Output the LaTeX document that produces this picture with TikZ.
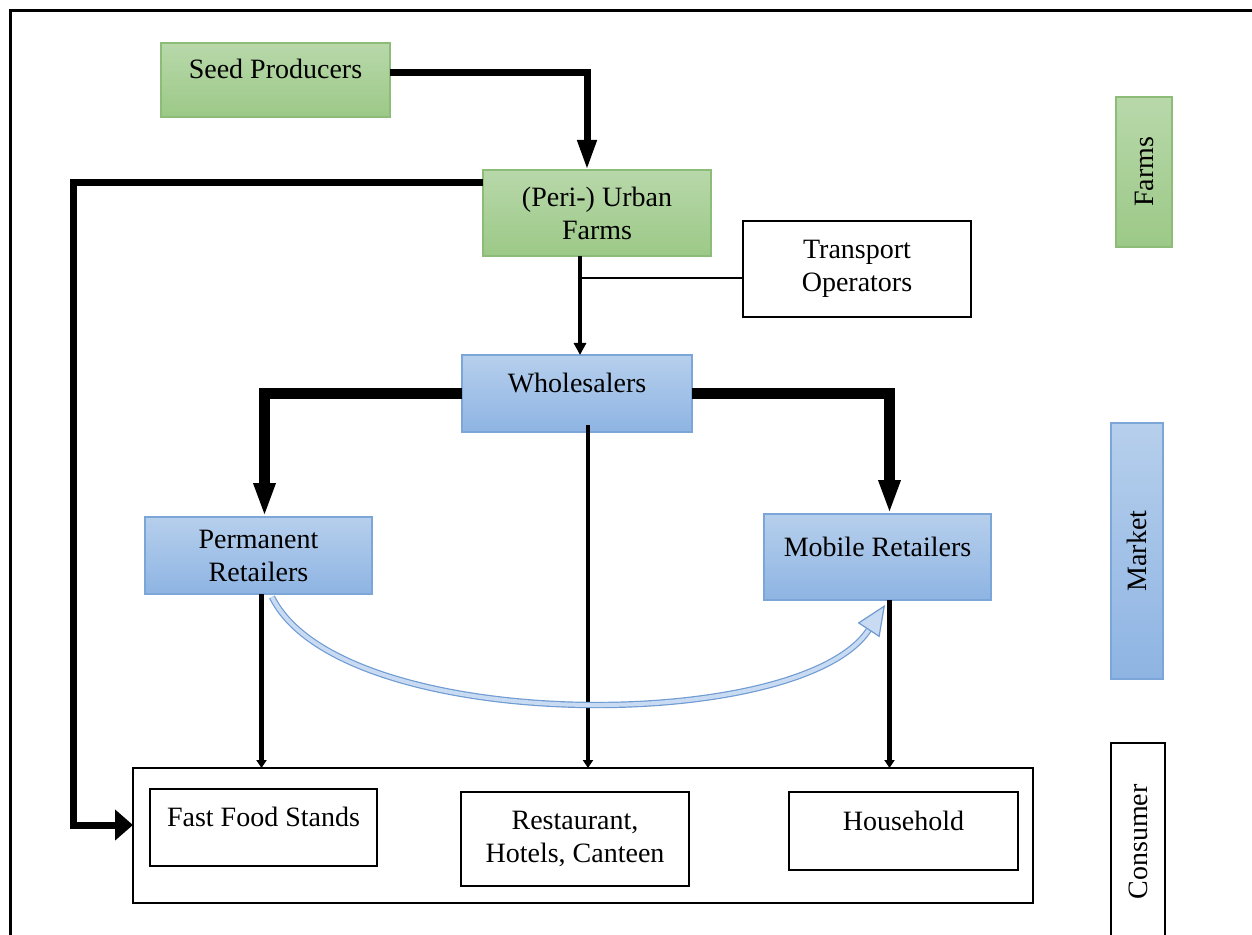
\documentclass[tikz,border=0pt]{standalone}
\usepackage{fontspec}
\setmainfont{Liberation Serif}
\usetikzlibrary{arrows.meta}
\definecolor{greentop}{HTML}{B8D8AA}
\definecolor{greenbot}{HTML}{9CC987}
\definecolor{greenedge}{HTML}{8DBB78}
\definecolor{bluetop}{HTML}{B6CFEC}
\definecolor{bluebot}{HTML}{8EB4E3}
\definecolor{blueedge}{HTML}{7CA5D8}
\definecolor{curvefill}{HTML}{C8DBF2}
\definecolor{curveedge}{HTML}{6F9BD2}
\begin{document}
\begin{tikzpicture}[x=0.5pt,y=-0.5pt]
\tikzstyle{every node}+=[inner sep=0pt,outer sep=0pt,font=\fontsize{14}{16.5}\selectfont,align=center]
\tikzstyle{farmbox}=[draw=greenedge,top color=greentop,bottom color=greenbot,line width=0.6pt]
\tikzstyle{marketbox}=[draw=blueedge,top color=bluetop,bottom color=bluebot,line width=0.6pt]
\tikzstyle{plainbox}=[draw=black,fill=white,line width=0.8pt]
\tikzstyle{oneline}=[text height=10pt,text depth=11pt]
\tikzstyle{flow}=[draw=black,line join=miter]
\useasboundingbox (0,0) rectangle (1252,935);
\draw[line width=1.5pt] (1262,11) -- (10,11) -- (10,945);
\node[farmbox,oneline,minimum width=114.5pt,minimum height=37pt] (seed) at (275.5,80) {Seed Producers};
\node[farmbox,minimum width=114pt,minimum height=43pt] (farm) at (597,213) {(Peri-) Urban\\Farms};
\node[plainbox,minimum width=114pt,minimum height=48pt] (trans) at (857,269) {Transport\\Operators};
\node[marketbox,oneline,minimum width=115pt,minimum height=38.5pt] (whole) at (577,393.5) {Wholesalers};
\node[marketbox,minimum width=113.5pt,minimum height=38.5pt] (perm) at (258.5,555.5) {Permanent\\Retailers};
\node[marketbox,oneline,minimum width=113.5pt,minimum height=43pt] (mob) at (877.5,557) {Mobile Retailers};
\node[plainbox,minimum width=450pt,minimum height=67.5pt] (cons) at (583,835.5) {};
\node[plainbox,oneline,minimum width=113.5pt,minimum height=38.5pt] (fast) at (263.5,827.5) {Fast Food Stands};
\node[plainbox,minimum width=114pt,minimum height=47pt] (rest) at (575,839) {Restaurant,\\Hotels, Canteen};
\node[plainbox,oneline,minimum width=114.5pt,minimum height=39pt] (house) at (903.5,831) {Household};
\node[farmbox,rotate=90,minimum width=75pt,minimum height=28pt] (farmslabel) at (1144,172) {Farms};
\node[marketbox,rotate=90,minimum width=128pt,minimum height=26pt] (marketlabel) at (1137,551) {Market};
\node[plainbox,rotate=90,minimum width=99pt,minimum height=27pt] (conslabel) at (1138,842) {Consumer};
\coordinate (drop) at ([xshift=-8.5pt]farm.south);
\coordinate (bend) at (73,825);
\draw[flow,line width=3.5pt,-{Triangle[length=15pt,width=9pt]}] ([yshift=3.5pt]seed.east) -| ([xshift=-5pt]farm.north);
\draw[flow,line width=3.5pt,-{Triangle[length=9pt,width=15pt]}] ([yshift=15pt]farm.west) -| (bend) -- (bend -| cons.west);
\draw[flow,line width=2pt,-{Triangle[length=6pt,width=6pt]}] (drop) -- (drop |- whole.north);
\draw[flow,line width=1pt] ([yshift=-4.5pt]trans.west) -- ([yshift=-4.5pt]trans.west -| drop);
\draw[flow,line width=5.5pt,-{Triangle[length=17pt,width=10pt]}] (whole.west) -| ([xshift=3pt]perm.north);
\draw[flow,line width=5.5pt,-{Triangle[length=17pt,width=10pt]}] (whole.east) -| ([xshift=6pt]mob.north);
\draw[flow,line width=2pt,-{Triangle[length=4pt,width=5pt]}] ([xshift=5.5pt,yshift=3.5pt]whole.south) -- ([xshift=5.5pt]whole.south |- cons.north);
\draw[flow,line width=2.2pt,-{Triangle[length=4pt,width=5pt]}] ([xshift=1.5pt]perm.south) -- ([xshift=1.5pt]perm.south |- cons.north);
\draw[flow,line width=2.2pt,-{Triangle[length=4pt,width=5pt]}] ([xshift=6pt]mob.south) -- ([xshift=6pt]mob.south |- cons.north);
\draw[draw=curveedge,line width=0.6pt,double=curvefill,double distance=2pt,-{Triangle[length=15pt,width=13pt,fill=curvefill]}] ([xshift=6.75pt,yshift=-1.5pt]perm.south) .. controls +(68,138) and +(-85,130) .. ([xshift=3.75pt,yshift=-2.5pt]mob.south);
\end{tikzpicture}
\end{document}
